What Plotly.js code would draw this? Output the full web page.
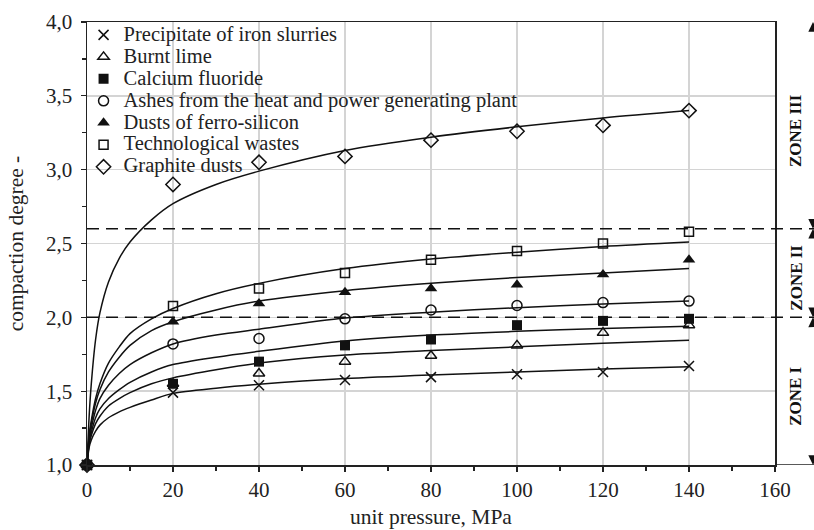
<!DOCTYPE html>
<html>
<head>
<meta charset="utf-8">
<script src="https://cdn.plot.ly/plotly-3.0.1.min.js"></script>
<style>html,body{margin:0;padding:0;background:#fff;}#chart{width:814px;height:530px;}</style>
</head>
<body>
<div id="chart"></div>
<script>
// Measured points (unit pressure, MPa)
const pressure = [0, 20, 40, 60, 80, 100, 120, 140];
const precipitate = [1.0, 1.49, 1.54, 1.575, 1.595, 1.615, 1.63, 1.67];
const burntLime = [1.0, 1.55, 1.62, 1.70, 1.74, 1.81, 1.895, 1.947];
const calciumFluoride = [1.0, 1.55, 1.70, 1.81, 1.85, 1.947, 1.976, 1.99];
const ashes = [1.0, 1.82, 1.857, 1.99, 2.05, 2.08, 2.10, 2.11];
const ferroSilicon = [1.0, 1.97, 2.094, 2.17, 2.195, 2.22, 2.29, 2.39];
const technological = [1.0, 2.076, 2.196, 2.30, 2.39, 2.45, 2.50, 2.58];
const graphite = [1.0, 2.90, 3.05, 3.09, 3.20, 3.26, 3.30, 3.40];

// Trend curves
const trendX = [0, 0.5, 1, 2, 3, 5, 7.5, 10, 15, 20, 30, 40, 60, 80, 100, 120, 140];
const precipitateFit = [1.0, 1.12, 1.17, 1.23, 1.27, 1.32, 1.36, 1.39, 1.44, 1.485, 1.52, 1.546, 1.585, 1.61, 1.63, 1.65, 1.665];
const burntLimeFit = [1.0, 1.14, 1.2, 1.28, 1.33, 1.40, 1.45, 1.49, 1.55, 1.59, 1.645, 1.69, 1.745, 1.775, 1.80, 1.825, 1.845];
const calciumFluorideFit = [1.0, 1.15, 1.22, 1.32, 1.38, 1.45, 1.51, 1.56, 1.63, 1.68, 1.73, 1.77, 1.84, 1.88, 1.905, 1.925, 1.94];
const ashesFit = [1.0, 1.17, 1.25, 1.37, 1.45, 1.54, 1.62, 1.68, 1.76, 1.82, 1.88, 1.92, 1.995, 2.035, 2.065, 2.09, 2.11];
const ferroSiliconFit = [1.0, 1.19, 1.28, 1.42, 1.51, 1.63, 1.73, 1.81, 1.91, 1.97, 2.05, 2.11, 2.18, 2.23, 2.27, 2.30, 2.33];
const technologicalFit = [1.0, 1.2, 1.3, 1.45, 1.55, 1.69, 1.8, 1.89, 1.99, 2.06, 2.16, 2.23, 2.33, 2.395, 2.44, 2.48, 2.51];
const graphiteFit = [1.0, 1.33, 1.55, 1.85, 2.03, 2.24, 2.40, 2.51, 2.66, 2.77, 2.90, 2.99, 3.13, 3.22, 3.29, 3.35, 3.40];

const seriesNames = ['Precipitate of iron slurries', 'Burnt lime', 'Calcium fluoride',
  'Ashes from the heat and power generating plant', 'Dusts of ferro-silicon',
  'Technological wastes', 'Graphite dusts'];

// Zones
const zoneBounds = [1.0, 2.0, 2.6, 4.0];
const zoneLabels = ['ZONE I', 'ZONE II', 'ZONE III'];

const SERIF = "'Liberation Serif', 'Times New Roman', serif";
const values = [precipitate, burntLime, calciumFluoride, ashes, ferroSilicon, technological, graphite];
const fits = [precipitateFit, burntLimeFit, calciumFluorideFit, ashesFit, ferroSiliconFit, technologicalFit, graphiteFit];
const markerStyles = [
  {symbol: 'x-thin-open', size: 10, color: '#111', line: {color: '#111', width: 1.5}},
  {symbol: 'triangle-up-open', size: 10, color: '#111', line: {color: '#111', width: 1.5}},
  {symbol: 'square', size: 10, color: '#111', line: {color: '#111', width: 0}},
  {symbol: 'circle-open', size: 10, color: '#111', line: {color: '#111', width: 1.5}},
  {symbol: 'triangle-up', size: 11, color: '#111', line: {color: '#111', width: 0}},
  {symbol: 'square-open', size: 9, color: '#111', line: {color: '#111', width: 1.5}},
  {symbol: 'diamond-open', size: 11, color: '#111', line: {color: '#111', width: 1.5}}
];

const traces = [];
fits.forEach(function (f) {
  traces.push({x: trendX, y: f, mode: 'lines', type: 'scatter', showlegend: false, hoverinfo: 'skip',
    line: {color: '#111', width: 1.5, shape: 'spline', smoothing: 0.8}});
});
// draw calcium fluoride last so its filled square sits on top at the origin
const drawOrder = [0, 1, 3, 4, 5, 6, 2];
drawOrder.forEach(function (i) {
  traces.push({x: pressure, y: values[i], mode: 'markers', type: 'scatter',
    name: '<span style="font-size:20.5px;font-family:Liberation Serif">' + seriesNames[i] + '</span>',
    legendrank: i + 1, cliponaxis: false, marker: markerStyles[i]});
});

const shapes = [
  {type: 'line', xref: 'paper', yref: 'y', x0: 0, x1: 1.06, y0: zoneBounds[1], y1: zoneBounds[1],
   line: {color: '#111', width: 1.5, dash: '12px,7px'}},
  {type: 'line', xref: 'paper', yref: 'y', x0: 0, x1: 1.06, y0: zoneBounds[2], y1: zoneBounds[2],
   line: {color: '#111', width: 1.5, dash: '12px,7px'}},
  {type: 'line', xref: 'paper', yref: 'y', x0: 1, x1: 1.06, y0: zoneBounds[0], y1: zoneBounds[0],
   line: {color: '#222', width: 1.5}}
];

const annotations = [];
for (let z = 0; z < zoneLabels.length; z++) {
  const lo = zoneBounds[z], hi = zoneBounds[z + 1], mid = (lo + hi) / 2;
  annotations.push({xref: 'paper', yref: 'y', x: 1.03, y: mid, xanchor: 'center', yanchor: 'middle',
    yshift: -5, text: zoneLabels[z], showarrow: false,
    textangle: -90, font: {family: SERIF, size: 17, color: '#111', weight: 'bold'}});
  // arrowheads marking the zone ends at the right edge
  annotations.push({xref: 'paper', yref: 'y', x: 1.0555, y: hi, axref: 'pixel', ayref: 'pixel', ax: 0, ay: 9,
    text: '', showarrow: true, arrowhead: 2, arrowsize: 1.3, arrowwidth: 1.5, arrowcolor: '#111'});
  annotations.push({xref: 'paper', yref: 'y', x: 1.0555, y: lo, axref: 'pixel', ayref: 'pixel', ax: 0, ay: -9,
    text: '', showarrow: true, arrowhead: 2, arrowsize: 1.3, arrowwidth: 1.5, arrowcolor: '#111'});
}

const axisCommon = {
  showline: true, linecolor: '#222', linewidth: 1.5, mirror: true,
  ticks: 'outside', ticklen: 5, tickwidth: 1.2, tickcolor: '#222',
  showgrid: true, gridcolor: '#d4d4d4', gridwidth: 1.5, zeroline: false,
  tickfont: {family: SERIF, size: 21, color: '#222'}
};

const layout = {
  width: 814, height: 530,
  margin: {l: 87, r: 39, t: 21.5, b: 65},
  paper_bgcolor: '#fff', plot_bgcolor: '#fff',
  separators: ', ',
  font: {family: SERIF, size: 20, color: '#222'},
  showlegend: true,
  legend: {x: -0.005, y: 1.007, xanchor: 'left', yanchor: 'top', bgcolor: 'rgba(0,0,0,0)',
    borderwidth: 0, font: {family: SERIF, size: 14.6, color: '#222'}},
  xaxis: Object.assign({}, axisCommon, {
    range: [0, 160], tick0: 0, dtick: 20,
    minor: {dtick: 10, ticks: 'outside', ticklen: 4, tickcolor: '#222', showgrid: false},
    title: {text: 'unit pressure, MPa', font: {family: SERIF, size: 21.5, color: '#222'}, standoff: 8}
  }),
  yaxis: Object.assign({}, axisCommon, {
    range: [1, 4], tick0: 1, dtick: 0.5, tickformat: '.1f', ticklabelstandoff: 4,
    minor: {dtick: 0.25, ticks: 'outside', ticklen: 4, tickcolor: '#222', showgrid: false},
    title: {text: 'compaction degree -', font: {family: SERIF, size: 21.5, color: '#222'}, standoff: 16}
  }),
  shapes: shapes,
  annotations: annotations
};

Plotly.newPlot('chart', traces, layout, {displayModeBar: false, staticPlot: true});
</script>
</body>
</html>
